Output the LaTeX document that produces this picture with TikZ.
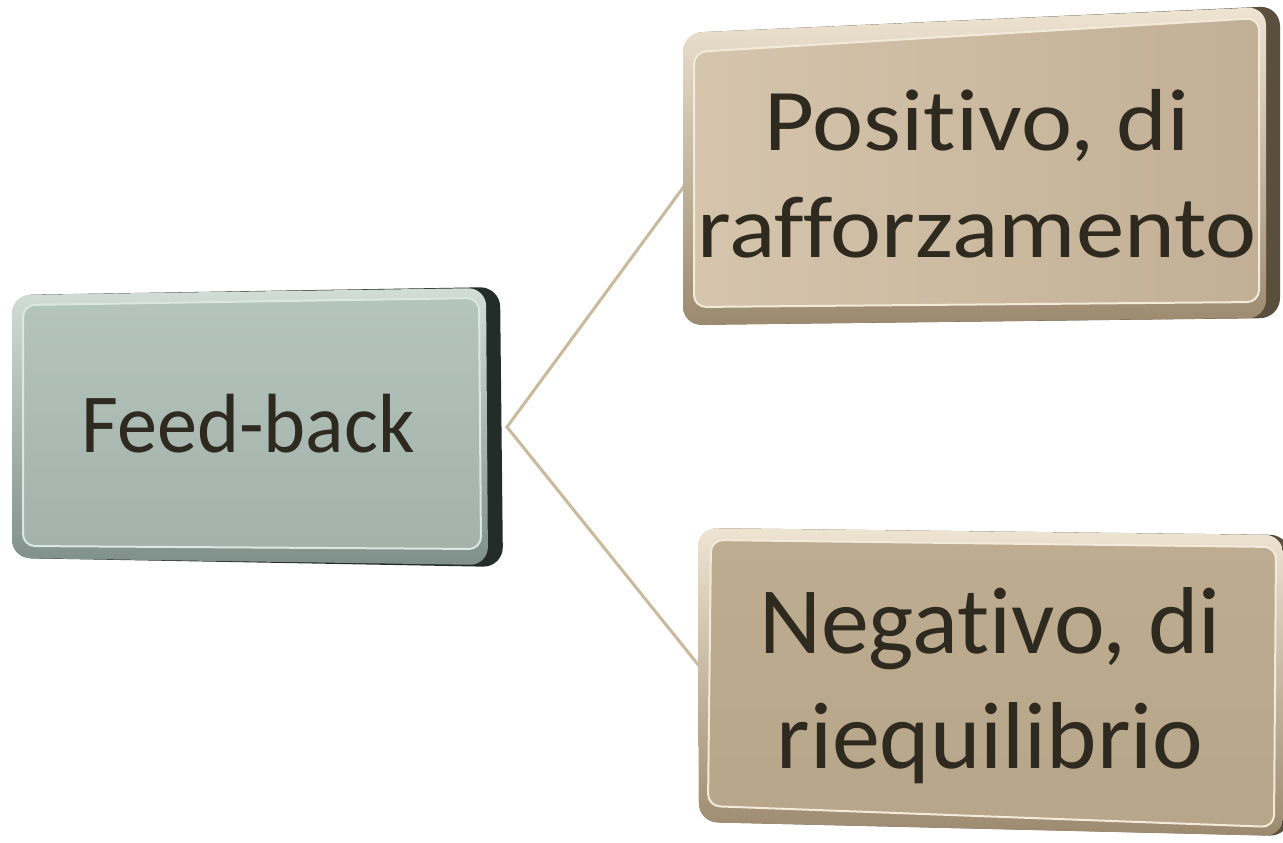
\documentclass[tikz,border=0pt]{standalone}
\usepackage{fontspec}
\setmainfont{Carlito}[Ligatures={NoCommon}]
\usetikzlibrary{calc}
\definecolor{txtc}{HTML}{2F2A20}
\definecolor{linkc}{HTML}{CBB99E}
% left (grey-green) box
\definecolor{gDark}{HTML}{242C2A}
\definecolor{gBevT}{HTML}{D2DDD8}
\definecolor{gBevB}{HTML}{7F908A}
\definecolor{gFaceT}{HTML}{B4C5BE}
\definecolor{gFaceB}{HTML}{A3B2AB}
\definecolor{gHi}{HTML}{DCE6E2}
% right (tan) boxes
\definecolor{tDark}{HTML}{5A4E3D}
\definecolor{tBevT}{HTML}{EEE4D2}
\definecolor{tBevB}{HTML}{9C8A6F}
\definecolor{tFaceT}{HTML}{D5C5AC}
\definecolor{tFaceB}{HTML}{C2AF95}
\definecolor{bFaceT}{HTML}{BEAC91}
\definecolor{bFaceB}{HTML}{B8A68A}
\definecolor{tHi}{HTML}{F2EADB}
\tikzset{
  darkside/.style={rounded corners=20pt},
  bevel/.style={rounded corners=18pt},
  face/.style={rounded corners=12pt, line width=2pt},
  txt/.style={text=txtc, inner sep=0pt},
  link/.style={draw=linkc, line width=3pt, line join=miter},
}
\begin{document}
\begin{tikzpicture}[x=1pt,y=-1pt]
\useasboundingbox (0,0) rectangle (1283,843);
\fill[white] (0,0) rectangle (1283,843);

% ---------- connectors ----------
\coordinate (fbR) at (507,427);
\coordinate (posL) at (685,185);
\coordinate (negL) at (700,667);
\draw[link] (posL) -- (fbR) -- (negL);

% ---------- left box ----------
\fill[gDark, darkside] (12,295) -- (500,287) -- (503,567) -- (12,558) -- cycle;
\shade[top color=gBevT, bottom color=gBevB, bevel] (12,295) -- (486,288) -- (488,565) -- (12,558) -- cycle;
\shade[top color=gFaceT, bottom color=gFaceB, draw=gHi, face] (23,305) -- (479,298) -- (481,549) -- (23,546) -- cycle;
\node[txt, anchor=base, xscale=0.955, transform shape, font=\fontsize{84}{100}\selectfont] (fb) at (248,452) {Feed-back};

% ---------- top right box ----------
\fill[tDark, darkside] (683,33) -- (1280,6) -- (1280,318) -- (683,325) -- cycle;
\shade[top color=tBevT, bottom color=tBevB, bevel] (683,33) -- (1266,7) -- (1266,318) -- (683,325) -- cycle;
\shade[left color=tFaceT, right color=tFaceB, draw=tHi, face] (694,52) -- (1259,18) -- (1259,302) -- (694,307) -- cycle;
\node[txt, anchor=base, align=center, xscale=1.1, transform shape, font=\fontsize{88}{107}\selectfont] (pos) at (977,257) {Positivo, di\\rafforzamento};

% ---------- bottom right box ----------
\fill[tDark, darkside] (698,528) -- (1290,535) -- (1290,836) -- (699,822) -- cycle;
\shade[top color=tBevT, bottom color=tBevB, bevel] (698,528) -- (1283,535) -- (1283,836) -- (699,822) -- cycle;
\shade[top color=bFaceT, bottom color=bFaceB, draw=tHi, face] (711,540) -- (1276,547) -- (1274,827) -- (708,806) -- cycle;
\node[txt, anchor=base, align=center, xscale=1.01, transform shape, font=\fontsize{95}{115}\selectfont] (neg) at (990,768) {Negativo, di\\riequilibrio};
\end{tikzpicture}
\end{document}
